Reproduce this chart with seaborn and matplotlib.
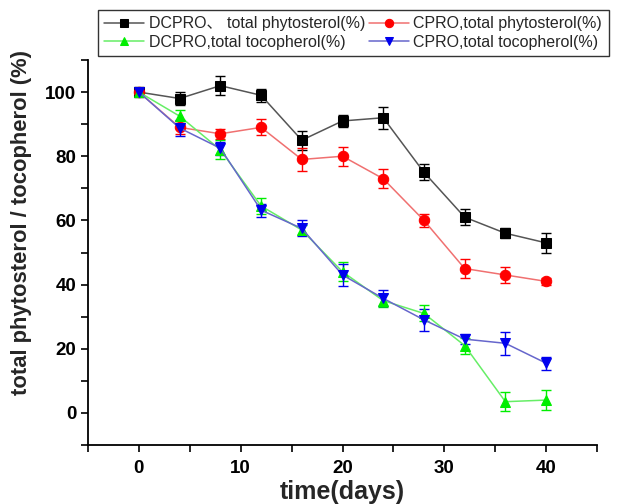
import numpy as np
import pandas as pd
import matplotlib
matplotlib.use("Agg")
import matplotlib.pyplot as plt
import seaborn as sns

# donnees
days = [0, 4, 8, 12, 16, 20, 24, 28, 32, 36, 40]

dc_sterol = [100, 98, 102, 99, 85, 91, 92, 75, 61, 56, 53]
dc_sterol_err = [1.5, 2, 3, 2, 3, 2, 3.5, 2.5, 2.5, 1.5, 3]

c_sterol = [100, 89, 87, 89, 79, 80, 73, 60, 45, 43, 41]
c_sterol_err = [1, 2, 1.5, 2.5, 3.5, 3, 3, 2, 3, 2.5, 1]

dc_toco = [100, 92.5, 82, 64.5, 57, 44, 35, 31, 21, 3.5, 4]
dc_toco_err = [1, 2, 3, 2.5, 1.5, 3, 2, 2.5, 2.5, 3, 3]

c_toco = [100, 88.8, 82.5, 63.2, 57.5, 43, 35.7, 29, 23, 21.7, 15.5]
c_toco_err = [1, 2.5, 2, 2, 2.5, 3.5, 2.5, 3.5, 1.5, 3.5, 2]

labels = ["DCPRO\u3001 total phytosterol(%)", "CPRO,total phytosterol(%)",
          "DCPRO,total tocopherol(%)", "CPRO,total tocopherol(%)"]

sns.set_style("ticks")
plt.rcParams['font.family'] = ['Liberation Sans', 'Noto Sans CJK SC', 'DejaVu Sans']

fig = plt.figure(figsize=(6.2, 5.04), dpi=100)
ax = fig.add_axes([88 / 620, 59 / 504, 509 / 620, 385 / 504])

series = [
    (dc_sterol, dc_sterol_err, "s", "black", "#555555", 6.5),
    (c_sterol, c_sterol_err, "o", "red", "#f07070", 7.5),
    (dc_toco, dc_toco_err, "^", "#00ee00", "#66ee66", 7.5),
    (c_toco, c_toco_err, "v", "#0000ee", "#6666cc", 7.5),
]

for (vals, errs, mk, mcol, lcol, ms), lab in zip(series, labels):
    df = pd.DataFrame({"days": days, "val": vals})
    ax.errorbar(days, vals, yerr=errs, fmt="none", ecolor=mcol,
                elinewidth=1.0, capsize=3.5, capthick=1.0, zorder=2)
    sns.lineplot(data=df, x="days", y="val", ax=ax, color=lcol, lw=1.1,
                 marker=mk, markersize=ms, markerfacecolor=mcol,
                 markeredgecolor=mcol, label=lab, zorder=3)

ax.set_xlim(-5, 45)
ax.set_ylim(-10, 110)
ax.set_xticks([-5, 0, 5, 10, 15, 20, 25, 30, 35, 40, 45])
ax.set_xticklabels(["", "0", "", "10", "", "20", "", "30", "", "40", ""])
ax.set_yticks([-10, 0, 10, 20, 30, 40, 50, 60, 70, 80, 90, 100, 110])
ax.set_yticklabels(["", "0", "", "20", "", "40", "", "60", "", "80", "", "100", ""])
ax.tick_params(axis="both", direction="out", length=5, width=1.2,
               labelsize=13.5, colors="black")
ax.tick_params(axis="x", pad=6)
for t in ax.get_xticklabels() + ax.get_yticklabels():
    t.set_fontweight("bold")

for s in ["left", "bottom"]:
    ax.spines[s].set_linewidth(1.3)
    ax.spines[s].set_color("black")
sns.despine(ax=ax)

ax.set_xlabel("time(days)", fontsize=18, fontweight="bold", labelpad=2)
ax.set_ylabel("total phytosterol / tocopherol (%)", fontsize=15.8,
              fontweight="bold")
ax.yaxis.set_label_coords(-0.11, 0.579)

# ordre par lignes comme dans l'original
h, l = ax.get_legend_handles_labels()
order = [0, 2, 1, 3]
leg = ax.legend([h[i] for i in order], [l[i] for i in order],
                loc="upper left", bbox_to_anchor=(98 / 620, 1 - 10 / 504),
                bbox_transform=fig.transFigure, borderaxespad=0, ncol=2,
                fontsize=11.5, frameon=True, fancybox=False, edgecolor="black",
                handlelength=2.5, handletextpad=0.3, columnspacing=0.2,
                borderpad=0.4, labelspacing=0.2, markerscale=0.8)
leg.get_frame().set_linewidth(1.0)

fig.savefig("out.png", dpi=100, facecolor="white")
